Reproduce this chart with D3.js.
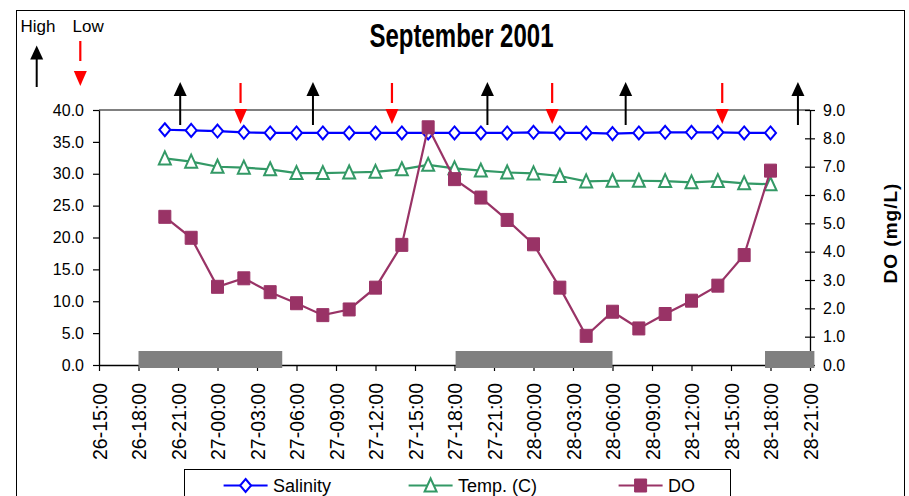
<!DOCTYPE html>
<html>
<head>
<meta charset="utf-8">
<script src="https://cdn.jsdelivr.net/npm/d3@7"></script>
<style>
  body { margin: 0; background: #fff; }
  svg text { font-family: "Liberation Sans", Arial, sans-serif; fill: #000; }
</style>
</head>
<body>
<svg id="chart" width="909" height="496"></svg>
<script>
// sample times (day-hour), every 2 hours
var times = ["26-20:00","26-22:00","27-00:00","27-02:00","27-04:00","27-06:00","27-08:00","27-10:00",
             "27-12:00","27-14:00","27-16:00","27-18:00","27-20:00","27-22:00","28-00:00","28-02:00",
             "28-04:00","28-06:00","28-08:00","28-10:00","28-12:00","28-14:00","28-16:00","28-18:00"];
var salinity = [36.9, 36.8, 36.7, 36.5, 36.4, 36.4, 36.4, 36.4, 36.4, 36.4, 36.4, 36.4,
                36.4, 36.4, 36.5, 36.4, 36.4, 36.3, 36.4, 36.5, 36.5, 36.5, 36.4, 36.4];
var temp = [32.4, 31.9, 31.1, 30.95, 30.7, 30.1, 30.1, 30.2, 30.3, 30.7, 31.4, 30.85,
            30.5, 30.2, 30.05, 29.65, 28.8, 28.9, 28.9, 28.85, 28.65, 28.85, 28.5, 28.35];
var dissolvedO2 = [5.23, 4.49, 2.76, 3.06, 2.57, 2.18, 1.76, 1.96, 2.73, 4.24, 8.39, 6.56,
                   5.91, 5.12, 4.26, 2.73, 1.03, 1.88, 1.29, 1.80, 2.27, 2.80, 3.88, 6.86];

var highTides = ["26-21:10","27-07:15","27-20:30","28-07:00","28-20:05"];
var lowTides = ["27-01:45","27-13:15","28-01:25","28-14:20"];
var nights = [["26-18:00","27-04:55"], ["27-18:05","28-06:00"], ["28-17:35","28-21:20"]];

var xTickLabels = ["26-15:00","26-18:00","26-21:00","27-00:00","27-03:00","27-06:00","27-09:00",
                   "27-12:00","27-15:00","27-18:00","27-21:00","28-00:00","28-03:00","28-06:00",
                   "28-09:00","28-12:00","28-15:00","28-18:00","28-21:00"];
var leftTicks = [0, 5, 10, 15, 20, 25, 30, 35, 40];
var rightTicks = [0, 1, 2, 3, 4, 5, 6, 7, 8, 9];

var BLUE = "#0000ff", GREEN = "#339966", PLUM = "#993366";

// "DD-HH:MM" -> hours since day 26 00:00
function hrs(s) {
  var p = s.split(/[-:]/);
  return (+p[0] - 26) * 24 + (+p[1]) + (+p[2]) / 60;
}

var svg = d3.select("#chart");
var plotL = 99, plotR = 810, plotT = 110, plotB = 365;

var x = d3.scaleLinear()
  .domain([hrs(xTickLabels[0]), hrs(xTickLabels[xTickLabels.length - 1])])
  .range([plotL, plotR]);
var yL = d3.scaleLinear().domain([0, 40]).range([plotB, plotT]);
var yR = d3.scaleLinear().domain([0, 9]).range([plotB, plotT]);

// outer chart border
svg.append("rect").attr("x", 16.5).attr("y", 10.5).attr("width", 888).attr("height", 520)
  .attr("fill", "none").attr("stroke", "#000").attr("stroke-width", 1);

// title
svg.append("text")
  .attr("transform", "translate(461.5,46.7) scale(1,1.36)")
  .attr("text-anchor", "middle")
  .style("font-size", "24px").style("font-weight", "bold")
  .text("September 2001");

// plot area top border
svg.append("line").attr("x1", plotL).attr("x2", plotR).attr("y1", plotT).attr("y2", plotT)
  .attr("stroke", "#808080").attr("stroke-width", 2);

// left axis
var gL = svg.append("g").attr("transform", "translate(" + plotL + ",0)")
  .call(d3.axisLeft(yL).tickValues(leftTicks).tickSize(6).tickSizeOuter(0).tickPadding(9)
    .tickFormat(d3.format(".1f")));
gL.selectAll("text").style("font-size", "16px");

// right axis, ticks cross the line
var gR = svg.append("g").attr("transform", "translate(" + plotR + ",0)")
  .call(d3.axisRight(yR).tickValues(rightTicks).tickSize(5).tickSizeOuter(0)
    .tickFormat(d3.format(".1f")));
gR.selectAll(".tick line").attr("x1", -5).attr("x2", 5);
gR.selectAll("text").attr("x", 13).style("font-size", "16px");

svg.append("text")
  .attr("transform", "translate(897,233) rotate(-90)")
  .attr("text-anchor", "middle")
  .style("font-size", "19px").style("font-weight", "bold").style("letter-spacing", "1px")
  .text("DO (mg/L)");

// bottom axis
var gX = svg.append("g").attr("transform", "translate(0," + plotB + ")")
  .call(d3.axisBottom(x).tickValues(xTickLabels.map(hrs)).tickSize(6).tickSizeOuter(0)
    .tickFormat(function (d, i) { return xTickLabels[i]; }));
gX.selectAll("text")
  .attr("x", 0).attr("y", 0).attr("dy", "0.36em")
  .attr("transform", "translate(0,18) rotate(-90)")
  .style("text-anchor", "end").style("font-size", "19.5px");

[gL, gR, gX].forEach(function (g) {
  g.selectAll(".domain").attr("stroke", "#000").attr("stroke-width", 1.3);
  g.selectAll(".tick line").attr("stroke", "#000").attr("stroke-width", 1.2);
});

// night bars
svg.selectAll(".night").data(nights).enter().append("rect")
  .attr("class", "night")
  .attr("x", function (d) { return x(hrs(d[0])); })
  .attr("width", function (d) { return x(hrs(d[1])) - x(hrs(d[0])); })
  .attr("y", 351).attr("height", 17)
  .attr("fill", "#808080");

// marker shapes
function diamond(cx, cy) {
  return "M" + cx + "," + (cy - 6.5) + "L" + (cx + 5.5) + "," + cy + "L" + cx + "," + (cy + 6.5) +
    "L" + (cx - 5.5) + "," + cy + "Z";
}
function triangle(cx, cy) {
  return "M" + cx + "," + (cy - 7) + "L" + (cx + 6) + "," + (cy + 6) + "L" + (cx - 6) + "," + (cy + 6) + "Z";
}
function square(cx, cy) {
  return "M" + (cx - 6) + "," + (cy - 6.5) + "h12v13h-12Z";
}

function drawSeries(values, yScale, color, shape, filled) {
  var pts = values.map(function (v, i) { return [x(hrs(times[i])), yScale(v)]; });
  svg.append("path")
    .attr("d", d3.line()(pts))
    .attr("fill", "none").attr("stroke", color).attr("stroke-width", 2.2);
  svg.selectAll(null).data(pts).enter().append("path")
    .attr("d", function (d) { return shape(d[0], d[1]); })
    .attr("fill", filled ? color : "#fff")
    .attr("stroke", color).attr("stroke-width", filled ? 1 : 2);
}

drawSeries(temp, yL, GREEN, triangle, false);
drawSeries(salinity, yL, BLUE, diamond, false);
drawSeries(dissolvedO2, yR, PLUM, square, true);

// tide arrows
function highArrow(g, cx, y0, y1) {
  g.append("line").attr("x1", cx).attr("x2", cx).attr("y1", y1).attr("y2", y0 + 12)
    .attr("stroke", "#000").attr("stroke-width", 2);
  g.append("path").attr("d", "M" + (cx - 6.5) + "," + (y0 + 14) + "L" + (cx + 6.5) + "," + (y0 + 14) +
    "L" + cx + "," + y0 + "Z").attr("fill", "#000");
}
function lowArrow(g, cx, y0, y1) {
  g.append("line").attr("x1", cx).attr("x2", cx).attr("y1", y0).attr("y2", y0 + 20)
    .attr("stroke", "#ff0000").attr("stroke-width", 2.2);
  g.append("path").attr("d", "M" + (cx - 6.5) + "," + (y1 - 15) + "L" + (cx + 6.5) + "," + (y1 - 15) +
    "L" + cx + "," + y1 + "Z").attr("fill", "#ff0000");
}

var gT = svg.append("g");
highTides.forEach(function (t) { highArrow(gT, x(hrs(t)), 82, 125); });
lowTides.forEach(function (t) { lowArrow(gT, x(hrs(t)), 83, 124); });

// top-left key
svg.append("text").attr("x", 20.5).attr("y", 31.5).style("font-size", "17px").text("High");
svg.append("text").attr("x", 72.5).attr("y", 31.5).style("font-size", "17px").text("Low");
highArrow(gT, 36.7, 45.5, 87);
lowArrow(gT, 80.3, 41, 86);

// legend
var legendItems = [
  { name: "Salinity", color: BLUE, shape: diamond, filled: false, x0: 223.6 },
  { name: "Temp. (C)", color: GREEN, shape: triangle, filled: false, x0: 408.6 },
  { name: "DO", color: PLUM, shape: square, filled: true, x0: 618.6 }
];
svg.append("rect").attr("x", 184.5).attr("y", 469.5).attr("width", 546).attr("height", 40)
  .attr("fill", "#fff").attr("stroke", "#000").attr("stroke-width", 1);
var lg = svg.selectAll(".leg").data(legendItems).enter().append("g").attr("class", "leg");
lg.append("line")
  .attr("x1", function (d) { return d.x0; }).attr("x2", function (d) { return d.x0 + 44; })
  .attr("y1", 485.5).attr("y2", 485.5)
  .attr("stroke", function (d) { return d.color; }).attr("stroke-width", 2.2);
lg.append("path")
  .attr("d", function (d) { return d.shape(d.x0 + 22, 485.5); })
  .attr("fill", function (d) { return d.filled ? d.color : "#fff"; })
  .attr("stroke", function (d) { return d.color; })
  .attr("stroke-width", function (d) { return d.filled ? 1 : 2; });
lg.append("text")
  .attr("x", function (d) { return d.x0 + 49.5; }).attr("y", 492)
  .style("font-size", "18px")
  .text(function (d) { return d.name; });
</script>
</body>
</html>
